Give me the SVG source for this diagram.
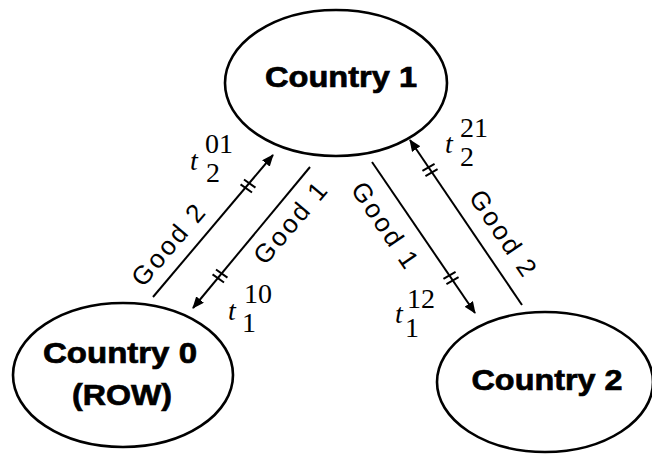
<svg xmlns="http://www.w3.org/2000/svg" xmlns:xlink="http://www.w3.org/1999/xlink" width="652" height="456" viewBox="0 0 652 456">
<style>
.node{fill:#fff;stroke:#000;stroke-width:2.6}
.ntxt{font-family:"Liberation Sans",Arial,sans-serif;font-weight:bold;font-size:30px;fill:#000;stroke:#000;stroke-width:0.7}
.edge{stroke:#000;stroke-width:2;fill:none}
.hash{stroke:#000;stroke-width:2;fill:none}
.elab{font-family:"Liberation Sans",Arial,sans-serif;font-size:26px;fill:#000}
.tl{font-family:"Liberation Serif","Times New Roman",serif;font-size:28px;fill:#000}
.tv{font-style:italic}
</style>
<defs>
<marker id="arr" markerUnits="userSpaceOnUse" markerWidth="12" markerHeight="10" refX="11" refY="5" orient="auto">
<path d="M0,0 L12,5 L0,10 z" fill="#000"/>
</marker>
<path id="hashmark" d="M-3,-7V7M3,-7V7"/>
</defs>
<rect width="652" height="456" fill="#fff"/>
<g id="connectors">
<line class="edge" x1="153" y1="297" x2="273" y2="155" marker-end="url(#arr)"/>
<line class="edge" x1="310" y1="167" x2="193" y2="308" marker-end="url(#arr)"/>
<line class="edge" x1="372" y1="162" x2="475" y2="313" marker-end="url(#arr)"/>
<line class="edge" x1="522" y1="305" x2="410" y2="140" marker-end="url(#arr)"/>
<use class="hash" xlink:href="#hashmark" href="#hashmark" transform="translate(248,186) rotate(-55)"/>
<use class="hash" xlink:href="#hashmark" href="#hashmark" transform="translate(220,276) rotate(-55)"/>
<use class="hash" xlink:href="#hashmark" href="#hashmark" transform="translate(451,278) rotate(60)"/>
<use class="hash" xlink:href="#hashmark" href="#hashmark" transform="translate(430,170) rotate(60)"/>
<text class="elab" text-anchor="middle" dominant-baseline="central" textLength="98" transform="translate(168,245) rotate(-49.8)">Good 2</text>
<text class="elab" text-anchor="middle" dominant-baseline="central" textLength="98" transform="translate(290,223) rotate(-49.8)">Good 1</text>
<text class="elab" text-anchor="middle" dominant-baseline="central" textLength="98" transform="translate(385,225) rotate(55.7)">Good 1</text>
<text class="elab" text-anchor="middle" dominant-baseline="central" textLength="98" transform="translate(503,233) rotate(55.7)">Good 2</text>
<text class="tl" x="190" y="170"><tspan class="tv">t</tspan><tspan x="205" y="153">01</tspan><tspan x="206" y="182">2</tspan></text>
<text class="tl" x="228" y="320"><tspan class="tv">t</tspan><tspan x="244" y="303">10</tspan><tspan x="242" y="332">1</tspan></text>
<text class="tl" x="395" y="323"><tspan class="tv">t</tspan><tspan x="407" y="308">12</tspan><tspan x="405" y="337">1</tspan></text>
<text class="tl" x="445" y="153"><tspan class="tv">t</tspan><tspan x="460" y="137">21</tspan><tspan x="460" y="166">2</tspan></text>
</g>
<g id="country1">
<ellipse class="node" cx="336" cy="83" rx="111" ry="73"/>
<text class="ntxt" x="341" y="87" text-anchor="middle" textLength="152" lengthAdjust="spacingAndGlyphs">Country 1</text>
</g>
<g id="country0">
<ellipse class="node" cx="123" cy="375" rx="110" ry="72"/>
<text class="ntxt" x="120" y="363" text-anchor="middle" textLength="154" lengthAdjust="spacingAndGlyphs">Country 0</text>
<text class="ntxt" x="122" y="405" text-anchor="middle" textLength="100" lengthAdjust="spacingAndGlyphs">(ROW)</text>
</g>
<g id="country2">
<ellipse class="node" cx="545" cy="382" rx="108" ry="70"/>
<text class="ntxt" x="547" y="390" text-anchor="middle" textLength="151" lengthAdjust="spacingAndGlyphs">Country 2</text>
</g>
</svg>
